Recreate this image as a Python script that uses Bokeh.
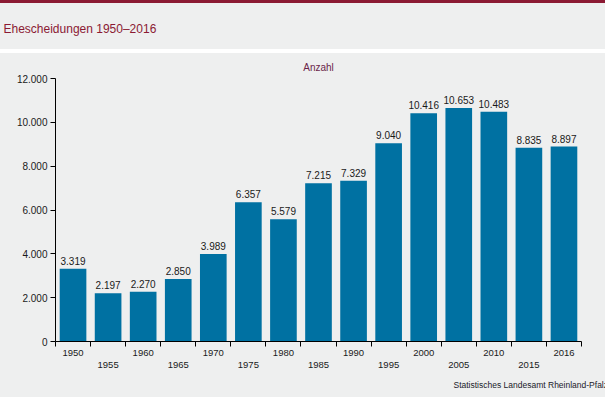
from bokeh.plotting import figure
from bokeh.models import (Range1d, LinearAxis, FixedTicker, Title, ColumnDataSource)
from bokeh.core.properties import value
from bokeh.embed import file_html
from bokeh.resources import INLINE

# ---- data ----
years = ["1950", "1955", "1960", "1965", "1970", "1975", "1980", "1985",
         "1990", "1995", "2000", "2005", "2010", "2015", "2016"]
divorces = [3319, 2197, 2270, 2850, 3989, 6357, 5579, 7215,
            7329, 9040, 10416, 10653, 10483, 8835, 8897]
y_ticks = [0, 2000, 4000, 6000, 8000, 10000, 12000]
title_text = "Ehescheidungen 1950\u20132016"
unit_text = "Anzahl"
source_text = "Statistisches Landesamt Rheinland-Pfalz"

FONT = "Liberation Sans"
BG = "#EEEFEF"
RED = "#8B1A33"
BAR = "#0071A2"

def de(v):
    return f"{v:,}".replace(",", ".")

W, H = 605, 397
n = len(years)
centers = [i + 0.5 for i in range(n)]
labels = [de(v) for v in divorces]
src = ColumnDataSource(dict(x=centers, top=divorces, label=labels))

p = figure(width=W, height=H, output_backend="svg", toolbar_location=None,
           x_range=Range1d(0, n), y_range=Range1d(0, 12000),
           x_axis_location=None, y_axis_location=None,
           min_border_left=55, min_border_right=24, min_border_top=78, min_border_bottom=56)
p.title = None
p.background_fill_color = BG
p.border_fill_color = None
p.outline_line_color = None
p.grid.visible = False
p.styles = {"background": f"linear-gradient(to bottom, {RED} 0px, {RED} 2.5px, {BG} 2.5px, {BG} 49px, "
                          f"#ffffff 49px, #ffffff 52.5px, {BG} 52.5px, {BG} 100%)"}

p.vbar(x="x", top="top", width=0.76, source=src, fill_color=BAR, line_color=None)
p.text(x="x", y="top", text="label", source=src, text_align="center", text_baseline="bottom",
       y_offset=-4, text_font=value(FONT), text_font_size="10px", text_color="#1a1a1a")

# y axis
yax = LinearAxis(ticker=FixedTicker(ticks=y_ticks))
yax.major_label_overrides = {t: de(t) for t in y_ticks}
yax.major_tick_in = 0
yax.major_tick_out = 5
yax.minor_tick_line_color = None
yax.axis_line_color = "black"
yax.major_tick_line_color = "black"
yax.major_label_standoff = 3
yax.major_label_text_font = FONT
yax.major_label_text_font_size = "10px"
yax.major_label_text_color = "#1a1a1a"
p.add_layout(yax, "left")

# x axis: ticks at category boundaries
xax = LinearAxis(ticker=FixedTicker(ticks=list(range(n + 1))))
xax.major_label_text_font_size = "0px"
xax.major_label_standoff = 0
xax.major_tick_in = 0
xax.major_tick_out = 5
xax.minor_tick_line_color = None
xax.axis_line_color = "black"
xax.major_tick_line_color = "black"
p.add_layout(xax, "below")

def label_axis(parity, standoff):
    ticks = [c for i, c in enumerate(centers) if i % 2 == parity]
    ax = LinearAxis(ticker=FixedTicker(ticks=ticks))
    ax.axis_line_color = None
    ax.major_tick_line_color = None
    ax.minor_tick_line_color = None
    ax.major_label_standoff = standoff
    ax.major_label_text_font = FONT
    ax.major_label_text_font_size = "9.5px"
    ax.major_label_text_color = "#1a1a1a"
    ax.major_label_overrides = {c: years[i] for i, c in enumerate(centers) if i % 2 == parity}
    return ax

p.add_layout(label_axis(0, -3), "below")
p.add_layout(label_axis(1, -3), "below")

p.add_layout(Title(text=source_text, align="left", offset=398, standoff=15,
                   text_font=FONT, text_font_size="8.5px", text_font_style="normal",
                   text_color="#1a1a2a"), "below")
p.add_layout(Title(text=unit_text, align="center", offset=12, standoff=11,
                   text_font=FONT, text_font_size="10px", text_font_style="normal",
                   text_color="#6B1F4A"), "above")
p.add_layout(Title(text=title_text, align="left", offset=-52, standoff=37,
                   text_font=FONT, text_font_size="12px", text_font_style="normal",
                   text_color=RED), "above")

open("out.html", "w").write(file_html(p, INLINE))
